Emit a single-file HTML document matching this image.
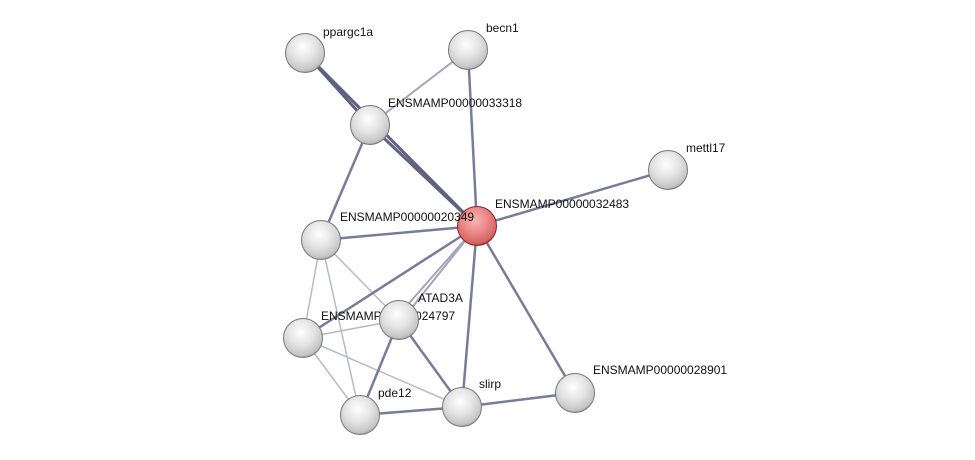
<!DOCTYPE html>
<html><head><meta charset="utf-8"><style>
html,body{margin:0;padding:0;background:#fff;width:975px;height:460px;overflow:hidden}
svg text{font-family:"Liberation Sans",sans-serif;font-size:12px;fill:#111}
</style></head><body>
<svg width="975" height="460" viewBox="0 0 975 460">
<defs>
<radialGradient id="g" cx="0.45" cy="0.35" r="0.7">
<stop offset="0" stop-color="#ffffff"/><stop offset="0.5" stop-color="#e2e2e2"/><stop offset="0.85" stop-color="#c4c4c4"/><stop offset="1" stop-color="#8a8a8a"/></radialGradient>
<radialGradient id="r" cx="0.45" cy="0.35" r="0.7">
<stop offset="0" stop-color="#f6b6b6"/><stop offset="0.5" stop-color="#e98585"/><stop offset="0.85" stop-color="#d36262"/><stop offset="1" stop-color="#8f2a2a"/></radialGradient>
</defs>
<g stroke-linecap="round">
<g stroke="#b8bacb" stroke-width="1.5">
<line x1="321" y1="240" x2="303" y2="338"/>
<line x1="321" y1="240" x2="360" y2="415"/>
<line x1="321" y1="240" x2="399" y2="320"/>
<line x1="303" y1="338" x2="399" y2="320"/>
<line x1="303" y1="338" x2="360" y2="415"/>
<line x1="303" y1="338" x2="462" y2="407"/>
</g>
<g stroke="#a2a5bb" stroke-width="2">
<line x1="477" y1="226" x2="402" y2="320"/>
<line x1="477" y1="226" x2="396" y2="318"/>
<line x1="370" y1="125" x2="468" y2="50"/>
</g>
<g stroke="#787c98" stroke-width="2.5">
<line x1="477" y1="226" x2="321" y2="240"/>
<line x1="477" y1="226" x2="303" y2="338"/>
<line x1="477" y1="226" x2="462" y2="407"/>
<line x1="477" y1="226" x2="575" y2="393"/>
<line x1="477" y1="226" x2="668" y2="170"/>
<line x1="477" y1="226" x2="468" y2="50"/>
<line x1="370" y1="125" x2="321" y2="240"/>
<line x1="399" y1="320" x2="360" y2="415"/>
<line x1="399" y1="320" x2="462" y2="407"/>
<line x1="360" y1="415" x2="462" y2="407"/>
<line x1="462" y1="407" x2="575" y2="393"/>
</g>
<g stroke="#5e627e" stroke-width="3">
<line x1="305" y1="53" x2="477" y2="226"/>
<line x1="370" y1="125" x2="477" y2="226"/>
<line x1="305" y1="53" x2="370" y2="125"/>
</g>
</g>
<g>
<text x="323" y="36">ppargc1a</text>
<text x="486" y="32">becn1</text>
<text x="388" y="107">ENSMAMP00000033318</text>
<text x="686" y="152">mettl17</text>
<text x="495" y="208">ENSMAMP00000032483</text>
<text x="321" y="320">ENSMAMP00000024797</text>
<text x="418" y="302">ATAD3A</text>
<text x="593" y="374">ENSMAMP00000028901</text>
<text x="479" y="388">slirp</text>
<text x="378" y="397">pde12</text>
</g>
<g stroke="#777" stroke-width="1">
<circle cx="305" cy="53" r="19.5" fill="url(#g)"/>
<circle cx="468" cy="50" r="19.5" fill="url(#g)"/>
<circle cx="370" cy="125" r="19.5" fill="url(#g)"/>
<circle cx="668" cy="170" r="19.5" fill="url(#g)"/>
<circle cx="321" cy="240" r="19.5" fill="url(#g)"/>
<circle cx="303" cy="338" r="19.5" fill="url(#g)"/>
<circle cx="399" cy="320" r="19.5" fill="url(#g)"/>
<circle cx="575" cy="393" r="19.5" fill="url(#g)"/>
<circle cx="462" cy="407" r="19.5" fill="url(#g)"/>
<circle cx="360" cy="415" r="19.5" fill="url(#g)"/>
<circle cx="477" cy="226" r="19.5" fill="url(#r)" stroke="#8a2222"/>
</g>
<text x="340" y="221">ENSMAMP00000020349</text>
</svg>
</body></html>
